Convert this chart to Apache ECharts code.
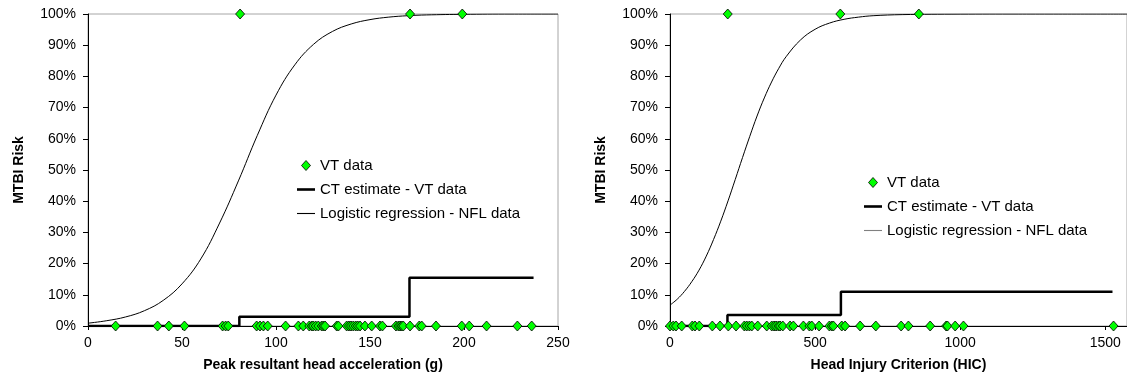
<!DOCTYPE html>
<html>
<head>
<meta charset="utf-8">
<script src="https://cdn.jsdelivr.net/npm/echarts@6/dist/echarts.min.js"></script>
<style>
    html, body { margin: 0; padding: 0; background: #fff; }
    #container { width: 1127px; height: 385px; }
</style>
</head>
<body>
<div id="container"></div>
<script>
// left panel: peak resultant head acceleration (g)
var accelZero = [14.7, 37, 43, 51.3, 71.6, 73.2, 74.6, 89.7, 91.5, 93.3, 95.6, 105.1, 111.9, 114.5,
    117.7, 119, 119.8, 121.1, 122.5, 124.3, 125.2, 126.1, 132.3, 133.2, 137.6, 138.8, 139.9, 141.1,
    142.4, 143.5, 144.7, 147.3, 150.9, 155.3, 156.6, 163.8, 165.1, 166, 166.9, 167.7, 171.3, 176.2,
    177.5, 185.1, 198.8, 202.8, 212, 228.4, 236];
var accelInjury = [80.9, 171.3, 199.1];
var accelCtX = [0, 80.5, 171, 237];
var accelCtY = [0, 3, 15.5, 15.5];
var accelCurveX = [0, 10, 20, 30, 40, 50, 60, 70, 80, 90, 100, 110, 120, 130, 140, 150, 160, 170, 180, 200, 225, 250];
var accelCurveY = [0.9, 1.7, 2.9, 4.9, 8.2, 13.5, 21.5, 33, 46.5, 61, 74, 83.7, 90.3, 94.4, 96.8, 98.2, 99, 99.45, 99.7, 99.9, 100, 100];

// right panel: head injury criterion (HIC)
var hicZero = [0, 11.4, 20.7, 40.3, 76.9, 86.2, 101, 145.9, 172.4, 201, 227.6, 256.2, 264.5, 273.4,
    281.7, 302.4, 333.4, 350.7, 358.6, 365.5, 373.4, 379.3, 388.6, 413.8, 425.2, 459.7, 480.3, 488.6,
    513.8, 549.3, 557.6, 563.1, 592, 603.4, 655.2, 709.3, 796.6, 821.7, 896.6, 951.7, 956.2, 982.8,
    1011.4, 1528.6];
var hicInjury = [199, 587, 857.6];
var hicCtX = [0, 198, 589, 1525];
var hicCtY = [0, 3.5, 11, 11];
var hicCurveX = [0, 25, 50, 75, 100, 125, 150, 175, 200, 225, 250, 275, 300, 325, 350, 375, 400, 450, 500, 550, 600, 650, 700, 800, 1000, 1200, 1575];
var hicCurveY = [6.7, 8.6, 11.1, 14.2, 17.9, 22.4, 27.7, 33.6, 40.1, 47, 54, 60.8, 67.3, 73.1, 78.2, 82.6, 86.3, 91.7, 95.1, 97.1, 98.3, 99, 99.45, 99.8, 99.97, 100, 100];

var names = ['VT data', 'CT estimate - VT data', 'Logistic regression - NFL data'];
var font = 'Liberation Sans, Arial, sans-serif';

function pairs(xs, ys) {
    return xs.map(function (x, i) { return [x, ys[i]]; });
}
function flat(xs, y) {
    return xs.map(function (x) { return [x, y]; });
}

var dom = document.getElementById('container');
var chart = echarts.init(dom);

function xAxisOf(grid, max, step, title) {
    return {
        type: 'value',
        gridIndex: grid,
        min: 0,
        max: max,
        interval: step,
        name: title,
        nameLocation: 'middle',
        nameGap: 32,
        nameTextStyle: { fontFamily: font, fontSize: 14, fontWeight: 'bold', color: '#000' },
        axisLine: { lineStyle: { color: '#000', width: 1 } },
        axisTick: { length: 4, lineStyle: { color: '#000' } },
        axisLabel: {
            fontFamily: font, fontSize: 14, color: '#000', margin: 10,
            showMaxLabel: grid === 0,
            formatter: function (v) { return String(v); }
        },
        splitLine: { show: false }
    };
}

function yAxisOf(grid) {
    return {
        type: 'value',
        gridIndex: grid,
        min: 0,
        max: 100,
        interval: 10,
        name: 'MTBI Risk',
        nameLocation: 'middle',
        nameGap: 62,
        nameTextStyle: { fontFamily: font, fontSize: 14, fontWeight: 'bold', color: '#000' },
        axisLine: { show: true, lineStyle: { color: '#000', width: 1 } },
        axisTick: { show: true, length: 5, lineStyle: { color: '#000' } },
        axisLabel: { fontFamily: font, fontSize: 14, color: '#000', margin: 12, formatter: '{value}%' },
        splitLine: { show: false }
    };
}

function legendOf(left, top, thinColor) {
    return {
        orient: 'vertical',
        left: left,
        top: top,
        itemWidth: 18,
        itemHeight: 10,
        itemGap: 9,
        symbolKeepAspect: true,
        textStyle: { fontFamily: font, fontSize: 15, color: '#000' },
        data: [
            { name: names[0], icon: 'path://M4.5,0 L9,5 L4.5,10 L0,5 Z', itemStyle: { color: '#00ff00', borderColor: '#000', borderWidth: 0.8 } },
            { name: names[1], icon: 'path://M0,0 L18,0 L18,2.6 L0,2.6 Z', itemStyle: { color: '#000' } },
            { name: names[2], icon: 'path://M0,0 L18,0 L18,1.1 L0,1.1 Z', itemStyle: { color: thinColor } }
        ]
    };
}

function panel(idx, zero, injury, ctX, ctY, curveX, curveY) {
    return [
        {
            name: names[2],
            type: 'line',
            xAxisIndex: idx,
            yAxisIndex: idx,
            data: pairs(curveX, curveY),
            smooth: 0.4,
            showSymbol: false,
            symbol: 'none',
            lineStyle: { color: '#000', width: 1 },
            itemStyle: { color: '#000' },
            z: 2
        },
        {
            name: names[1],
            type: 'line',
            xAxisIndex: idx,
            yAxisIndex: idx,
            data: pairs(ctX, ctY),
            step: 'end',
            showSymbol: false,
            symbol: 'none',
            lineStyle: { color: '#000', width: 2.5 },
            itemStyle: { color: '#000' },
            z: 3
        },
        {
            name: names[0],
            type: 'scatter',
            xAxisIndex: idx,
            yAxisIndex: idx,
            data: flat(zero, 0).concat(flat(injury, 100)),
            symbol: 'diamond',
            symbolSize: [9, 10],
            itemStyle: { color: '#00ff00', borderColor: '#000', borderWidth: 0.8, opacity: 1 },
            clip: false,
            z: 4
        }
    ];
}

option = {
    backgroundColor: '#fff',
    animation: false,
    grid: [
        { left: 88, right: 569, top: 14, bottom: 59, show: true, borderColor: '#a6a6a6', borderWidth: 1 },
        { left: 670, right: 0, top: 14, bottom: 59, show: true, borderColor: '#a6a6a6', borderWidth: 1 }
    ],
    xAxis: [
        xAxisOf(0, 250, 50, 'Peak resultant head acceleration (g)'),
        xAxisOf(1, 1575, 500, 'Head Injury Criterion (HIC)')
    ],
    yAxis: [yAxisOf(0), yAxisOf(1)],
    legend: [legendOf(292, 153, '#000'), legendOf(859, 170, '#808080')],
    series: panel(0, accelZero, accelInjury, accelCtX, accelCtY, accelCurveX, accelCurveY)
        .concat(panel(1, hicZero, hicInjury, hicCtX, hicCtY, hicCurveX, hicCurveY))
};

if (option && typeof option === "object") {
    chart.setOption(option, true);
}
</script>
</body>
</html>
